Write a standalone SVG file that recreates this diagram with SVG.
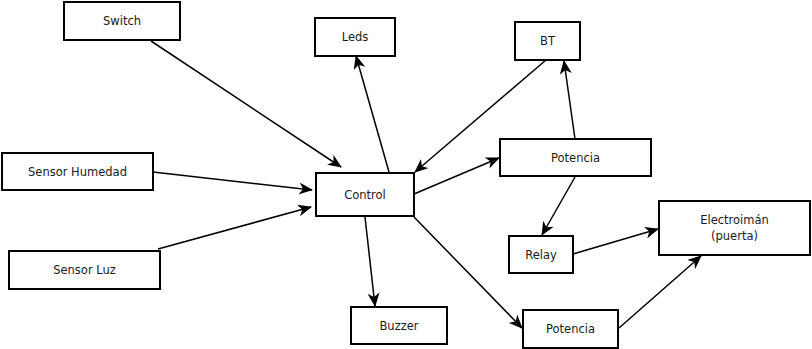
<svg xmlns="http://www.w3.org/2000/svg" width="812" height="349" viewBox="0 0 812 349">
  <style>
    .box { fill: #fff; stroke: #000; stroke-width: 2; }
    .lbl { font-family: "DejaVu Sans", sans-serif; font-size: 11.5px; fill: #1a1a1a; text-anchor: middle; dominant-baseline: central; }
    .edge { fill: none; stroke: #000; stroke-width: 1.5; marker-end: url(#arrow); }
  </style>
  <defs>
    <marker id="arrow" markerUnits="userSpaceOnUse" markerWidth="14" markerHeight="12" viewBox="0 0 14 12" refX="13" refY="6" orient="auto">
      <path d="M0,0 L14,6 L0,12 L4,6 z" fill="#000"/>
    </marker>
  </defs>

  <g id="connectors">
    <line class="edge" x1="151" y1="41" x2="341" y2="167"/>
    <line class="edge" x1="153" y1="172" x2="312" y2="190"/>
    <line class="edge" x1="158" y1="249" x2="311" y2="207"/>
    <line class="edge" x1="389" y1="172" x2="356" y2="56"/>
    <line class="edge" x1="546" y1="60" x2="415" y2="172"/>
    <line class="edge" x1="414" y1="194" x2="499" y2="158"/>
    <line class="edge" x1="575" y1="139" x2="564" y2="61"/>
    <line class="edge" x1="575" y1="177" x2="542" y2="235"/>
    <line class="edge" x1="365" y1="217" x2="375" y2="306"/>
    <line class="edge" x1="414" y1="217" x2="522" y2="328"/>
    <line class="edge" x1="573" y1="254" x2="658" y2="229"/>
    <line class="edge" x1="619" y1="328" x2="701" y2="256"/>
  </g>

  <g id="switch"><rect class="box" x="64" y="2" width="116" height="38"/><text class="lbl" x="122" y="21">Switch</text></g>
  <g id="leds"><rect class="box" x="315" y="18" width="80" height="38"/><text class="lbl" x="355" y="37">Leds</text></g>
  <g id="bt"><rect class="box" x="515" y="22" width="65" height="38"/><text class="lbl" x="547.5" y="41">BT</text></g>
  <g id="sensor-humedad"><rect class="box" x="2" y="153" width="151" height="37"/><text class="lbl" x="77.5" y="171.5">Sensor Humedad</text></g>
  <g id="control"><rect class="box" x="316" y="173" width="98" height="43"/><text class="lbl" x="365" y="194.5">Control</text></g>
  <g id="potencia-1"><rect class="box" x="500" y="139" width="151" height="37"/><text class="lbl" x="575.5" y="157.5">Potencia</text></g>
  <g id="relay"><rect class="box" x="509" y="236" width="64" height="37"/><text class="lbl" x="541" y="254.5">Relay</text></g>
  <g id="electroiman"><rect class="box" x="659" y="201" width="151" height="54"/><text class="lbl" x="734.5" y="220">Electroimán</text><text class="lbl" x="734.5" y="236">(puerta)</text></g>
  <g id="sensor-luz"><rect class="box" x="9" y="251" width="151" height="38"/><text class="lbl" x="84.5" y="270">Sensor Luz</text></g>
  <g id="buzzer"><rect class="box" x="351" y="307" width="96" height="37"/><text class="lbl" x="399" y="325.5">Buzzer</text></g>
  <g id="potencia-2"><rect class="box" x="523" y="310" width="95" height="38"/><text class="lbl" x="570.5" y="329">Potencia</text></g>
</svg>
